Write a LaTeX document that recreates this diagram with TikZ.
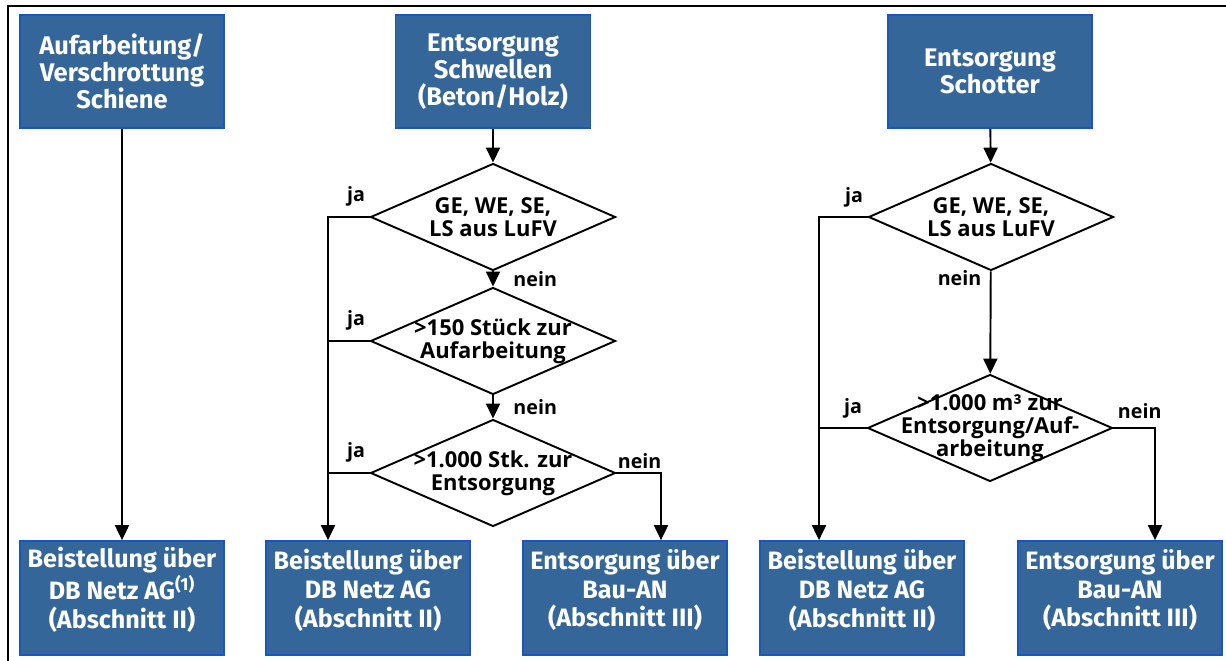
\documentclass[tikz,border=0pt]{standalone}
\usepackage{fontspec}
\setmainfont{Open Sans}
\newfontfamily\boxfont{Fira Sans}
\usetikzlibrary{shapes.geometric, arrows.meta, positioning}
\definecolor{dbblue}{RGB}{52,102,153}
\definecolor{dbline}{RGB}{25,85,200}
\tikzstyle{startbox} = [rectangle, text centered, align=center, minimum width=4.08cm,
	minimum height=2.26cm, draw=dbline, line width=1pt, fill=dbblue, text=white,
	font=\boxfont\bfseries\fontsize{14.5}{15.5}\selectfont]
\tikzstyle{endbox} = [startbox, minimum height=2.28cm, text depth=0.4cm,
	font=\boxfont\bfseries\fontsize{14.3}{16.4}\selectfont]
\tikzstyle{decision} = [diamond, draw=black, line width=1.1pt, minimum width=4.9cm,
	minimum height=2.14cm, inner sep=0pt]
\tikzstyle{dtext} = [align=center, font=\bfseries\fontsize{12.5}{13.2}\selectfont]
\tikzstyle{answer} = [font=\bfseries\fontsize{11.2}{13}\selectfont, inner sep=2pt]
\tikzstyle{arrow} = [-{Triangle[length=3mm, width=2.8mm]}, line width=1.1pt]
\tikzstyle{conn} = [line width=1.1pt]

\begin{document}
\begin{tikzpicture}[x=0.02cm, y=-0.02cm]
	\useasboundingbox (0,0) rectangle (1226,661);
	% frame
	\draw [conn] (8,661) -- (8,6) -- (1226,6);

	% set up start nodes
	\node (schiene) [startbox] at (122,71.5) {Aufarbeitung/\\Verschrottung\\Schiene};
	\node (schwellen) [startbox, minimum width=3.9cm] at (493,71.5) {Entsorgung\\Schwellen\\(Beton/Holz)};
	\node (schotter) [startbox] at (990,71.5) {Entsorgung\\Schotter};

	% set up decisions
	\node (sw1) [decision, label={[dtext]center:{GE, WE, SE,\\LS aus LuFV}}] at (493,217) {};
	\node (sw2) [decision, label={[dtext]center:{>150 Stück zur\\Aufarbeitung}}] at (493,341) {};
	\node (sw3) [decision, label={[dtext]center:{>1.000 Stk. zur\\Entsorgung}}] at (493,473) {};
	\node (st1) [decision, label={[dtext]center:{GE, WE, SE,\\LS aus LuFV}}] at (991,217) {};
	\node (st2) [decision, label={[dtext]center:{>1.000 m³ zur\\Entsorgung/Auf-\\arbeitung}}] at (990,428) {};

	% set up end nodes
	\node (netz1) [endbox] at (122,598) {Beistellung über\\DB Netz AG\textsuperscript{(1)}\\(Abschnitt II)};
	\node (netz2) [endbox] at (368,598) {Beistellung über\\DB Netz AG\\(Abschnitt II)};
	\node (bauan1) [endbox] at (625,598) {Entsorgung über\\Bau-AN\\(Abschnitt III)};
	\node (netz3) [endbox] at (862,598) {Beistellung über\\DB Netz AG\\(Abschnitt II)};
	\node (bauan2) [endbox] at (1120,598) {Entsorgung über\\Bau-AN\\(Abschnitt III)};

	% ends of the side lines
	\coordinate (ja1) at ([xshift=-0.8cm]netz2.north);
	\coordinate (nein1) at ([xshift=0.72cm]bauan1.north);
	\coordinate (ja2) at ([xshift=-0.86cm]netz3.north);
	\coordinate (nein2) at ([xshift=0.7cm]bauan2.north);

	% rails
	\draw [arrow] (schiene) -- (netz1);

	% sleepers
	\draw [arrow] (schwellen) -- (sw1);
	\draw [arrow] (sw1) -- (sw2) node[midway, right, xshift=0.32cm, answer] {nein};
	\draw [arrow] (sw2) -- (sw3) node[midway, right, xshift=0.32cm, answer] {nein};
	\draw [arrow] (sw1.west) -| (ja1) node[at start, above left, yshift=0.13cm, answer] {ja};
	\draw [conn] (sw2.west) -- (sw2.west -| ja1) node[at start, above left, yshift=0.13cm, answer] {ja};
	\draw [conn] (sw3.west) -- (sw3.west -| ja1) node[at start, above left, yshift=0.13cm, answer] {ja};
	\draw [arrow] (sw3.east) -| (nein1) node[at start, above right, xshift=-0.06cm, answer] {nein};

	% ballast
	\draw [arrow] (schotter) -- (st1);
	\draw [arrow] (st1) -- (st2) node[at start, below left, xshift=-0.1cm, yshift=0.1cm, answer] {nein};
	\draw [arrow] (st1.west) -| (ja2) node[at start, above left, yshift=0.1cm, answer] {ja};
	\draw [conn] (st2.west) -- (st2.west -| ja2) node[at start, above left, yshift=0.1cm, answer] {ja};
	\draw [arrow] (st2.east) -| (nein2) node[at start, above right, yshift=0.1cm, answer] {nein};

\end{tikzpicture}
\end{document}
